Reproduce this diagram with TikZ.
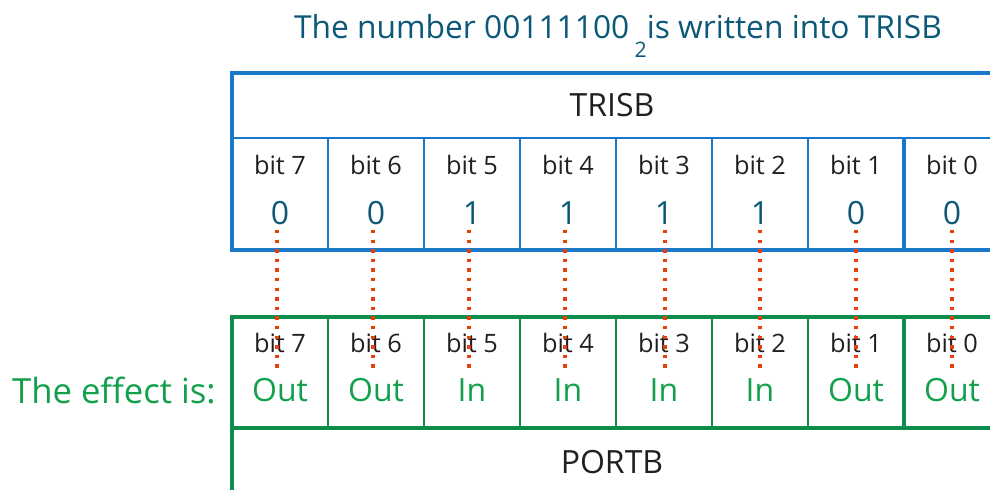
\documentclass[tikz,border=0pt]{standalone}
\usepackage{fontspec}
\setmainfont{Open Sans}
\definecolor{trisblue}{HTML}{1A78C8}
\definecolor{portgreen}{HTML}{0E8C4C}
\definecolor{valteal}{HTML}{0B5878}
\definecolor{iogreen}{HTML}{12A04C}
\definecolor{dotred}{HTML}{E8400C}
\definecolor{inkblack}{HTML}{231F20}
\begin{document}
\begin{tikzpicture}[x=0.75pt,y=-0.75pt,
  outerblue/.style={draw=trisblue,line width=2.6pt},
  innerblue/.style={draw=trisblue,line width=1.7pt},
  outergreen/.style={draw=portgreen,line width=2.6pt},
  innergreen/.style={draw=portgreen,line width=1.7pt},
  bitlabel/.style={text=inkblack,font=\fontsize{19}{19}\selectfont,inner sep=0pt},
  bitvalue/.style={text=valteal,font=\fontsize{24}{24}\selectfont,inner sep=0pt},
  iolabel/.style={text=iogreen,font=\fontsize{24}{24}\selectfont,inner sep=0pt},
  regname/.style={text=inkblack,font=\fontsize{24}{24}\selectfont,inner sep=0pt},
  bitlink/.style={draw=dotred,line width=2.8pt,dash pattern=on 2.6pt off 4.6pt},
]
\useasboundingbox (0,0) rectangle (990,490);

% heading
\node[text=valteal,font=\fontsize{23.8}{23.8}\selectfont,inner sep=0pt,anchor=base]
  (heading) at (618,38) {The number 00111100\,\raisebox{-14.5pt}{\fontsize{16}{16}\selectfont 2}is written into TRISB};

% TRISB register frame
\draw[outerblue] (990,73) -- (232,73) -- (232,250) -- (990,250);
\draw[innerblue] (232,138) -- (990,138);
\foreach \x in {328,424,520,616,712,808}
  \draw[innerblue] (\x,138) -- (\x,250);
\draw[outerblue] (904,138) -- (904,250);
\node[regname] (trisb) at (612,105) {TRISB};

% PORTB register frame
\draw[outergreen] (990,317) -- (232,317) -- (232,490);
\draw[outergreen] (232,428) -- (990,428);
\foreach \x in {328,424,520,616,712,808}
  \draw[innergreen] (\x,317) -- (\x,428);
\draw[outergreen] (904,317) -- (904,428);
\node[regname] (portb) at (612,462) {PORTB};

\node[text=iogreen,font=\fontsize{26}{26}\selectfont,inner sep=0pt,anchor=east]
  (effect) at (216,390) {The effect is:};

% bit cells: bit / TRISB value / pin direction / x of the link
\foreach \b/\v/\io/\lx in {7/0/Out/277,6/0/Out/373,5/1/In/469,4/1/In/565,
                           3/1/In/665,2/1/In/760,1/0/Out/856,0/0/Out/952}{
  \pgfmathsetmacro{\cx}{280+96*(7-\b)}
  \node[bitlabel] (tb\b) at (\cx,165) {bit \b};
  \node[bitvalue] (tv\b) at (\cx,213) {\v};
  \node[bitlabel] (pb\b) at (\cx,343) {bit \b};
  \node[iolabel]  (pd\b) at (\cx,390) {\io};
  \coordinate (ltop\b) at (\lx,230);
  \coordinate (lbot\b) at (\lx,368);
  \draw[bitlink] (ltop\b) -- (lbot\b);
}
\end{tikzpicture}
\end{document}
